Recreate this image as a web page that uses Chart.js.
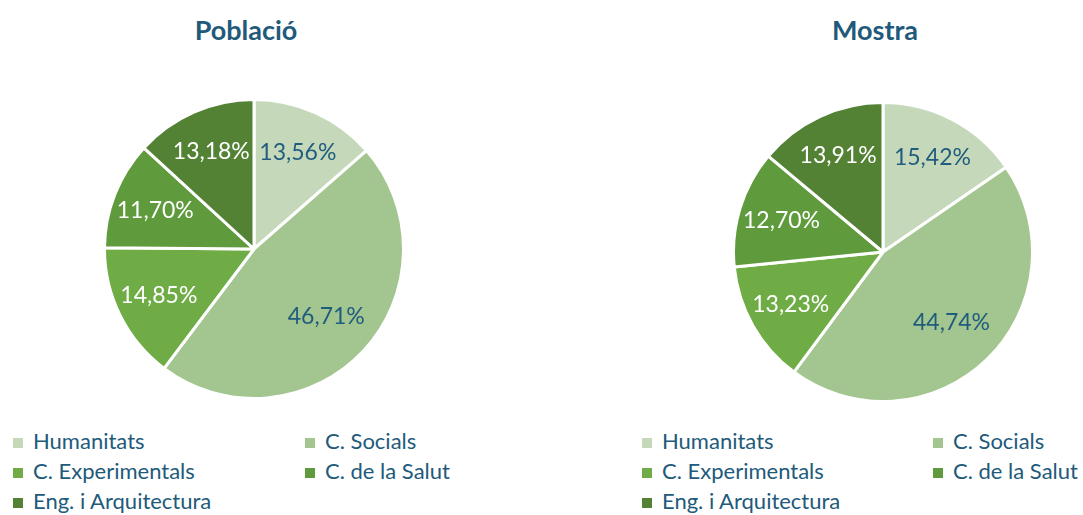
<!DOCTYPE html>
<html>
<head>
<meta charset="utf-8">
<script src="https://cdn.jsdelivr.net/npm/chart.js@4/dist/chart.umd.min.js"></script>
<style>
  body { margin: 0; width: 1083px; height: 515px; background: #fff; position: relative; overflow: hidden; font-family: Lato, "Open Sans", sans-serif; }
  .title { position: absolute; top: 13px; width: 300px; text-align: center; font-weight: bold; font-size: 27px; color: #1F5A7A; }
  .pie { position: absolute; width: 302px; height: 302px; }
  .legend { position: absolute; top: 426px; color: #215A7A; font-size: 22px; }
  .item { position: absolute; white-space: nowrap; line-height: 30px; }
  .item span { display: inline-block; width: 10px; height: 10px; margin-right: 10px; vertical-align: 1px; }
</style>
</head>
<body>
<div class="title" style="left:96px">Població</div>
<div class="title" style="left:725px">Mostra</div>
<div class="pie" style="left:103px; top:98px"><canvas id="pieLeft"></canvas></div>
<div class="pie" style="left:732px; top:101px"><canvas id="pieRight"></canvas></div>
<div class="legend" id="legLeft" style="left:13px"></div>
<div class="legend" id="legRight" style="left:642px"></div>
<script>
var categories = ['Humanitats', 'C. Socials', 'C. Experimentals', 'C. de la Salut', 'Eng. i Arquitectura'];
var poblacio = [13.56, 46.71, 14.85, 11.70, 13.18];
var mostra = [15.42, 44.74, 13.23, 12.70, 13.91];
var colors = ['#C5D9BA', '#A3C58F', '#6FAC46', '#5F9B3C', '#548235'];
var labelColors = ['#1F5C7D', '#1F5C7D', '#ffffff', '#ffffff', '#ffffff'];

// draws the percentage inside each slice
var sliceLabels = {
  id: 'sliceLabels',
  afterDatasetsDraw: function(chart) {
    var ctx = chart.ctx;
    var meta = chart.getDatasetMeta(0);
    var data = chart.data.datasets[0].data;
    ctx.save();
    ctx.font = '23px Lato';
    ctx.textAlign = 'center';
    ctx.textBaseline = 'middle';
    meta.data.forEach(function(arc, i) {
      var p = arc.getProps(['x', 'y', 'startAngle', 'endAngle', 'outerRadius']);
      var mid = (p.startAngle + p.endAngle) / 2;
      var k = data[i] > 40 ? 0.66 : 0.71;
      ctx.fillStyle = labelColors[i];
      ctx.fillText(data[i].toFixed(2).replace('.', ',') + '%',
        p.x + Math.cos(mid) * p.outerRadius * k,
        p.y + Math.sin(mid) * p.outerRadius * k);
    });
    ctx.restore();
  }
};

function makePie(id, values) {
  new Chart(document.getElementById(id), {
    type: 'pie',
    data: {
      labels: categories,
      datasets: [{
        data: values,
        backgroundColor: colors,
        borderColor: '#ffffff',
        borderWidth: 3
      }]
    },
    options: {
      responsive: true,
      maintainAspectRatio: false,
      animation: false,
      plugins: {
        legend: { display: false },
        tooltip: { enabled: false }
      }
    },
    plugins: [sliceLabels]
  });
}

function makeLegend(id, col2) {
  var el = document.getElementById(id);
  categories.forEach(function(name, i) {
    var d = document.createElement('div');
    d.className = 'item';
    d.style.left = (i % 2 ? col2 : 0) + 'px';
    d.style.top = (Math.floor(i / 2) * 30) + 'px';
    d.innerHTML = '<span style="background:' + colors[i] + '"></span>' + name;
    el.appendChild(d);
  });
}

makePie('pieLeft', poblacio);
makePie('pieRight', mostra);
makeLegend('legLeft', 292);
makeLegend('legRight', 291);
</script>
</body>
</html>
